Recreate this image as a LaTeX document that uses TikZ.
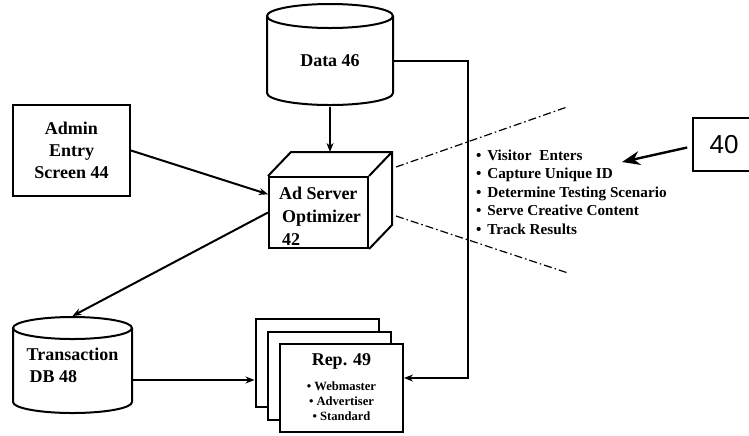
\documentclass[tikz,border=0pt]{standalone}
\usepackage{fontspec}
\setmainfont{Liberation Serif}
\newfontfamily\labelsans{Liberation Sans}
\usetikzlibrary{arrows.meta,calc}

\begin{document}
\begin{tikzpicture}[x=0.5pt,y=-0.5pt,line width=1pt,
  every node/.style={inner sep=0pt},
  lbl/.style={font=\fontsize{9}{11}\selectfont\bfseries,align=center},
  box/.style={draw,fill=white,line width=1pt},
  flow/.style={-{Stealth[length=4.5pt,width=3.5pt]},line width=1pt},
  fan/.style={dash pattern=on 4pt off 1.5pt on 0.8pt off 1.5pt,line width=0.6pt},
  callout/.style={-{Stealth[length=9pt,width=7pt]},line width=1.2pt}]

\useasboundingbox (0,0) rectangle (749,435);

% Data store 46
\draw[fill=white] (267,16) -- (267,93)
  arc[start angle=180,end angle=360,x radius=31.5pt,y radius=6pt] -- (393,16);
\draw (330,16) ellipse[x radius=31.5pt,y radius=6pt];
\node[lbl,minimum width=63pt,minimum height=45pt] (data) at (330,61) {Data 46};

% Transaction DB 48
\draw[fill=white] (13,328) -- (13,402)
  arc[start angle=180,end angle=360,x radius=29.75pt,y radius=5.5pt] -- (132,328);
\draw (72.5,328) ellipse[x radius=29.75pt,y radius=5.5pt];
\node[lbl,align=left,minimum width=59.5pt,minimum height=48pt] (trans) at (72.5,365)
  {Transaction\\\,DB 48};

% Admin entry screen
\node[box,lbl,minimum width=58.5pt,minimum height=45.5pt] (admin) at (71.5,150.5)
  {Admin\\Entry\\Screen 44};

% Ad server optimizer (cube)
\node[box,minimum width=49.5pt,minimum height=35.5pt] (cube) at (318.5,212.5) {};
\coordinate (cubeback) at ($(cube.north west)+(23,-24)$);
\draw (cube.north west) -- (cubeback) -- ($(cube.north east)+(23,-24)$)
  -- ($(cube.south east)+(23,-24)$) -- (cube.south east);
\draw ($(cube.north east)+(23,-24)$) -- (cube.north east);
\node[lbl,align=left,anchor=west,font=\fontsize{9}{11.5}\selectfont\bfseries] (cubelbl) at (278,216)
  {Ad Server\\\,Optimizer\\\,42};

% Report stack 49
\node[box,minimum width=61.5pt,minimum height=44pt] (repback) at (317,363) {};
\node[box,minimum width=61.5pt,minimum height=44pt] (repmid) at (329,376) {};
\node[box,minimum width=61.5pt,minimum height=44pt,align=center,
  font=\fontsize{6.3}{7.5}\selectfont\bfseries] (rep) at (341.5,387.5)
  {{\fontsize{9}{10}\selectfont Rep. 49}\\[5pt]
   \textbullet\ Webmaster\\\textbullet\ Advertiser\\\textbullet\ Standard};

% Connectors
\draw[flow] (data.south) -- (data.south |- cubeback);
\draw[flow] (admin.east) -- ($(cube.north west)!0.25!(cube.south west)$);
\draw[flow] (cube.west) -- (trans.north);
\coordinate (trout) at ([yshift=-7.5pt]trans.east);
\draw[flow] (trout) -- (trout -| repback.west);
\coordinate (rail) at (468,378);
\draw[flow] (data.east) -| (rail) -- (rail -| rep.east);

% Process detail fan-out
\coordinate (fanhi) at (567,107);
\coordinate (fanlo) at (568,273);
\draw[fan] ($(cube.north east)+(27,-9)$) -- (fanhi);
\draw[fan] ($(cube.south east)+(27,-33)$) -- (fanlo);

\node[anchor=north west,align=left,font=\fontsize{7.6}{9.2}\selectfont\bfseries] (steps) at (475,149)
  {\textbullet\hspace{3pt}Visitor\hspace{4pt}Enters\\
   \textbullet\hspace{3pt}Capture Unique ID\\
   \textbullet\hspace{3pt}Determine Testing Scenario\\
   \textbullet\hspace{3pt}Serve Creative Content\\
   \textbullet\hspace{3pt}Track Results};

% Reference numeral
\node[draw,line width=0.8pt,minimum width=31pt,minimum height=26.5pt,
  font=\labelsans\fontsize{13}{15}\selectfont] (ref) at (724,144.5) {40};
\coordinate (reftip) at (622,162);
\draw[callout] ([shift={(-5,3)}]ref.west) -- (reftip);
\end{tikzpicture}
\end{document}
